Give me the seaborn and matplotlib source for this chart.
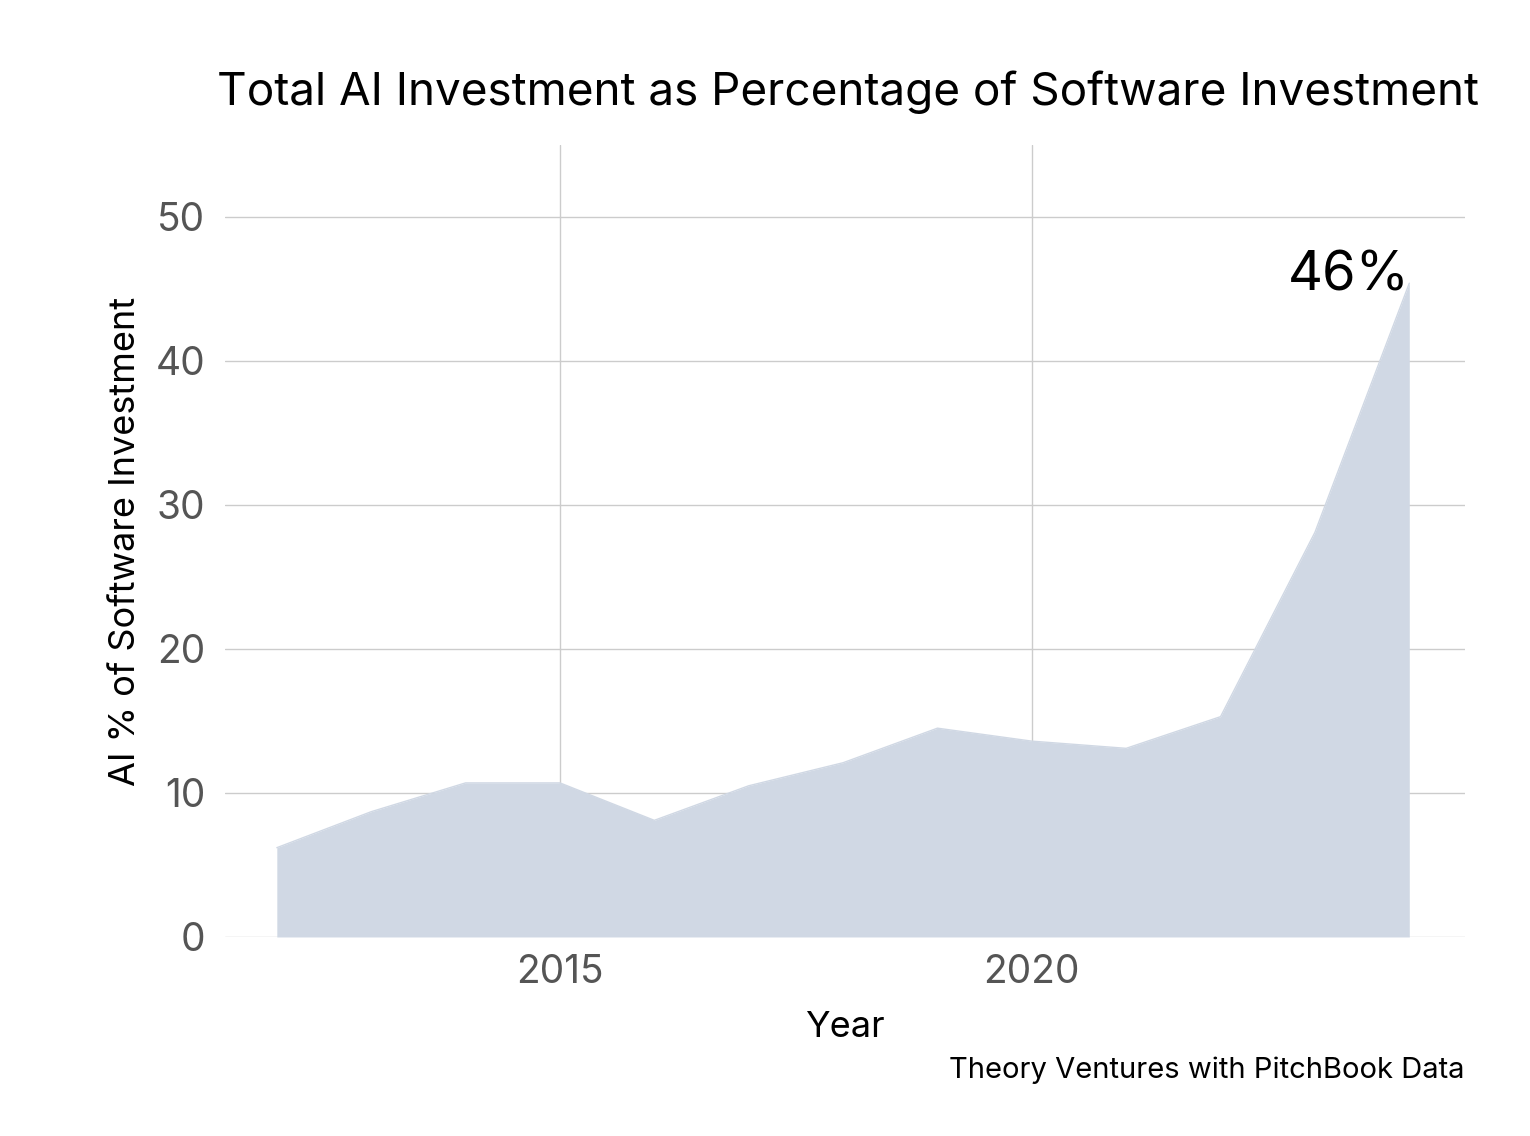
import matplotlib
matplotlib.use("Agg")
import matplotlib.pyplot as plt
import seaborn as sns
import pandas as pd

years = [2012, 2013, 2014, 2015, 2016, 2017, 2018, 2019, 2020, 2021, 2022, 2023, 2024]
ai_pct = [6.2, 8.7, 10.7, 10.7, 8.1, 10.5, 12.1, 14.5, 13.6, 13.1, 15.3, 28.1, 45.4]
x_ticks = [2015, 2020]
y_ticks = [0, 10, 20, 30, 40, 50]
peak_label = "46%"

title = "Total AI Investment as Percentage of Software Investment"
xlabel = "Year"
ylabel = "AI % of Software Investment"
caption = "Theory Ventures with PitchBook Data"

df = pd.DataFrame({"Year": years, "pct": ai_pct})

sns.set_theme(style="whitegrid")
plt.rcParams["font.family"] = ["Inter", "DejaVu Sans"]

fig = plt.figure(figsize=(15.3, 11.36), dpi=100)
ax = fig.add_axes([0.147, 0.1752, 0.8105, 0.6972])

area_color = "#d0d8e4"
ax.fill_between(df["Year"], 0, df["pct"], color=area_color, linewidth=0, zorder=2)
sns.lineplot(data=df, x="Year", y="pct", ax=ax, color=area_color, linewidth=1, zorder=3)

ax.set_xlim(2011.45, 2024.59)
ax.set_ylim(0, 55)
ax.set_xticks(x_ticks)
ax.set_yticks(y_ticks)
ax.set_xticklabels([str(t) for t in x_ticks])
ax.set_yticklabels([str(t) for t in y_ticks])

ax.grid(True, color="#cccccc", linewidth=1.0)
ax.set_axisbelow(True)
for s in ax.spines.values():
    s.set_visible(False)

ax.tick_params(axis="both", labelsize=28, labelcolor="#555555", length=0)
ax.tick_params(axis="x", pad=12)
ax.tick_params(axis="y", pad=14)

ax.set_xlabel(xlabel, fontsize=26, color="black", labelpad=15)
ax.set_ylabel(ylabel, fontsize=26, color="black", labelpad=10)

fig.text(0.554, 0.919, title, fontsize=33, ha="center", va="center", color="black")
fig.text(0.9575, 0.058, caption, fontsize=21, ha="right", va="center", color="black")

ax.text(years[-1], 45.9, peak_label, fontsize=39, ha="right", va="center", color="black", zorder=5)

fig.savefig("out.png", dpi=100, facecolor="white")
